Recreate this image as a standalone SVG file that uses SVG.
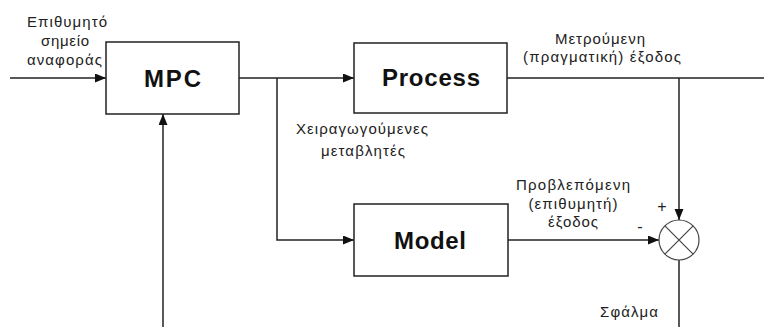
<svg xmlns="http://www.w3.org/2000/svg" width="764" height="327" viewBox="0 0 764 327">
  <defs>
    <marker id="arrow" markerUnits="userSpaceOnUse" markerWidth="12" markerHeight="10" refX="11" refY="4.5" orient="auto">
      <path d="M0,0 L11,4.5 L0,9 z" fill="#111"/>
    </marker>
    <style>
      .box { fill: #fff; stroke: #222; stroke-width: 1.5; }
      .wire { fill: none; stroke: #222; stroke-width: 1.5; }
      .title { font-family: "Liberation Sans", Arial, sans-serif; font-weight: bold; font-size: 24px; fill: #111; text-anchor: middle; }
      .lbl { font-family: "Liberation Sans", Arial, sans-serif; font-size: 15px; fill: #222; text-anchor: middle; }
      .sign { font-family: "Liberation Sans", Arial, sans-serif; font-size: 16px; fill: #222; text-anchor: middle; }
    </style>
  </defs>

  <!-- signal lines -->
  <g id="connectors">
    <path class="wire" d="M10,78 H106" marker-end="url(#arrow)"/>
    <path class="wire" d="M239,78 H354" marker-end="url(#arrow)"/>
    <path class="wire" d="M277,78 V240 H354" marker-end="url(#arrow)"/>
    <path class="wire" d="M507,78 H775" marker-end="url(#arrow)"/>
    <path class="wire" d="M679,78 V220" marker-end="url(#arrow)"/>
    <path class="wire" d="M508,240 H659" marker-end="url(#arrow)"/>
    <path class="wire" d="M679,260 V327"/>
    <path class="wire" d="M163,327 V114" marker-end="url(#arrow)"/>
  </g>

  <g id="mpc">
    <rect class="box" x="106" y="42" width="133" height="72"/>
    <text class="title" x="172.5" y="87" textLength="57" lengthAdjust="spacing">MPC</text>
  </g>

  <g id="process">
    <rect class="box" x="354" y="43" width="153" height="70"/>
    <text class="title" x="431" y="86" textLength="98" lengthAdjust="spacing">Process</text>
  </g>

  <g id="model">
    <rect class="box" x="354" y="204" width="154" height="72"/>
    <text class="title" x="430" y="249" textLength="72" lengthAdjust="spacing">Model</text>
  </g>

  <g id="comparator">
    <circle cx="679" cy="240" r="20" fill="#fff" stroke="#444" stroke-width="1.2"/>
    <path d="M664.9,225.9 L693.1,254.1 M693.1,225.9 L664.9,254.1" stroke="#444" stroke-width="1.2" fill="none"/>
    <text class="sign" x="662" y="212">+</text>
    <text class="sign" x="640" y="232">-</text>
  </g>

  <g id="labels">
    <text class="lbl" x="67" y="27" textLength="80" lengthAdjust="spacing">Επιθυμητό</text>
    <text class="lbl" x="65" y="46" textLength="48" lengthAdjust="spacing">σημείο</text>
    <text class="lbl" x="64.5" y="65" textLength="75" lengthAdjust="spacing">αναφοράς</text>

    <text class="lbl" x="362" y="134" textLength="132" lengthAdjust="spacing">Χειραγωγούμενες</text>
    <text class="lbl" x="363" y="156" textLength="84" lengthAdjust="spacing">μεταβλητές</text>

    <text class="lbl" x="600" y="44" textLength="90" lengthAdjust="spacing">Μετρούμενη</text>
    <text class="lbl" x="602" y="62" textLength="158" lengthAdjust="spacing">(πραγματική) έξοδος</text>

    <text class="lbl" x="573" y="190" textLength="114" lengthAdjust="spacing">Προβλεπόμενη</text>
    <text class="lbl" x="573" y="209" textLength="89" lengthAdjust="spacing">(επιθυμητή)</text>
    <text class="lbl" x="573" y="227" textLength="50" lengthAdjust="spacing">έξοδος</text>

    <text class="lbl" x="629" y="317" textLength="58" lengthAdjust="spacing">Σφάλμα</text>
  </g>
</svg>
